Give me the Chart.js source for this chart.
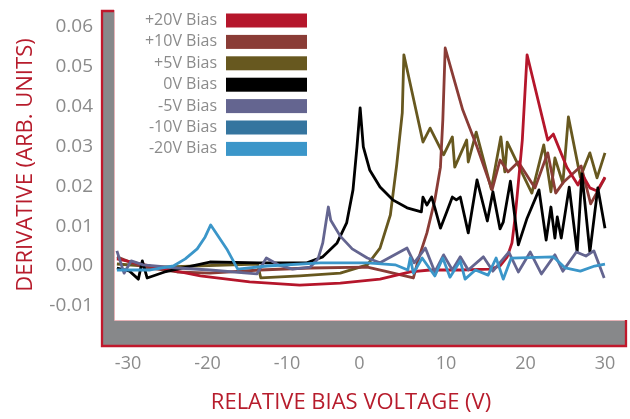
<!DOCTYPE html>
<html>
<head>
<meta charset="utf-8">
<script src="https://cdn.jsdelivr.net/npm/chart.js@4.4.0/dist/chart.umd.min.js"></script>
<style>
html, body { margin: 0; padding: 0; background: #fff; }
#wrap { width: 630px; height: 419px; position: relative; }
</style>
</head>
<body>
<div id="wrap"><canvas id="biasChart"></canvas></div>
<script>
const seriesNames = ['+20V Bias', '+10V Bias', '+5V Bias', '0V Bias', '-5V Bias', '-10V Bias', '-20V Bias'];
const seriesColors = ['#b5162b', '#8a3c36', '#67581f', '#000000', '#646590', '#35759f', '#3b96c9'];

const xTicks = [-30, -20, -10, 0, 10, 20, 30];
const yTicks = [-0.01, 0, 0.01, 0.02, 0.03, 0.04, 0.05, 0.06];

// +20V
const p20x = [-31.4, -27.2, -20.9, -14.7, -8.4, -3.3, 1.7, 5.5, 8.0, 11.8, 15.5, 16.8, 17.7, 18.3, 18.7, 19.1, 19.6, 20.2, 22.8, 23.5, 25.2, 26.6, 27.2, 28.1, 29.0, 30.0];
const p20y = [0.0018, 0.0000, -0.0025, -0.0040, -0.0048, -0.0043, -0.0033, -0.0015, -0.0010, -0.0010, -0.0008, 0.0000, 0.0023, 0.0058, 0.0123, 0.0208, 0.0316, 0.0530, 0.0316, 0.0331, 0.0248, 0.0203, 0.0228, 0.0196, 0.0188, 0.0223];
// +10V
const p10x = [-31.4, -28.1, -23.8, -19.7, -13.4, -7.1, 0.1, 2.3, 5.9, 6.5, 7.6, 8.6, 9.3, 9.6, 9.9, 12.1, 13.9, 15.8, 16.8, 17.8, 19.1, 21.2, 22.8, 23.8, 24.8, 27.0, 28.2, 30.0];
const p10y = [0.0023, -0.0003, -0.0015, -0.0018, -0.0010, -0.0005, -0.0003, -0.0013, -0.0030, 0.0015, 0.0083, 0.0166, 0.0248, 0.0366, 0.0547, 0.0392, 0.0299, 0.0191, 0.0266, 0.0236, 0.0261, 0.0196, 0.0284, 0.0183, 0.0211, 0.0251, 0.0156, 0.0221];
// +5V
const p5x = [-31.4, -26.0, -13.7, -13.3, -8.4, -3.3, 0.1, 1.7, 3.0, 3.8, 4.5, 4.7, 7.1, 8.0, 9.7, 10.8, 11.1, 12.6, 12.8, 13.8, 15.7, 16.9, 17.4, 17.7, 20.8, 22.3, 23.2, 23.7, 24.7, 25.4, 26.9, 28.1, 29.0, 30.0];
const p5y = [0.0005, -0.0003, 0.0005, -0.0030, -0.0025, -0.0018, 0.0003, 0.0045, 0.0128, 0.0254, 0.0384, 0.0530, 0.0311, 0.0346, 0.0279, 0.0324, 0.0248, 0.0316, 0.0261, 0.0336, 0.0193, 0.0324, 0.0236, 0.0311, 0.0183, 0.0304, 0.0186, 0.0271, 0.0208, 0.0374, 0.0223, 0.0284, 0.0221, 0.0284];
// 0V
const z0x = [-31.4, -29.8, -28.7, -28.2, -27.6, -25.4, -19.7, -13.4, -7.5, -5.5, -3.7, -2.5, -1.7, -1.2, -0.8, -0.4, 0.4, 1.7, 3.3, 5.1, 6.9, 7.1, 7.6, 8.2, 8.6, 9.3, 10.1, 10.8, 11.3, 11.8, 12.8, 13.9, 15.2, 15.9, 16.8, 17.2, 18.1, 19.1, 20.2, 21.7, 22.6, 23.2, 23.7, 24.0, 24.5, 25.5, 26.5, 27.1, 28.1, 29.1, 30.0];
const z0y = [-0.0005, -0.0013, -0.0033, 0.0013, -0.0030, -0.0015, 0.0010, 0.0008, 0.0008, 0.0023, 0.0058, 0.0108, 0.0191, 0.0299, 0.0397, 0.0299, 0.0241, 0.0198, 0.0166, 0.0146, 0.0136, 0.0173, 0.0153, 0.0173, 0.0146, 0.0095, 0.0136, 0.0173, 0.0166, 0.0173, 0.0083, 0.0216, 0.0113, 0.0186, 0.0093, 0.0110, 0.0213, 0.0053, 0.0120, 0.0191, 0.0065, 0.0148, 0.0070, 0.0123, 0.0070, 0.0198, 0.0035, 0.0231, 0.0035, 0.0196, 0.0095];
// -5V
const m5x = [-31.4, -30.5, -29.6, -28.1, -23.8, -19.7, -13.8, -12.6, -11.1, -9.3, -7.1, -6.1, -5.5, -5.1, -4.8, -4.5, -3.3, -1.8, 0.1, 1.7, 5.1, 6.0, 7.4, 8.6, 9.7, 10.8, 11.8, 12.8, 14.7, 15.9, 17.9, 19.1, 20.6, 22.0, 23.7, 24.7, 26.4, 27.6, 28.6, 29.9];
const m5y = [0.0038, -0.0018, 0.0013, 0.0003, -0.0005, -0.0010, -0.0020, 0.0020, 0.0003, -0.0008, -0.0003, 0.0018, 0.0058, 0.0110, 0.0148, 0.0115, 0.0075, 0.0043, 0.0020, 0.0008, 0.0045, 0.0008, 0.0045, -0.0015, 0.0028, -0.0010, 0.0023, -0.0010, 0.0023, -0.0013, 0.0035, -0.0015, 0.0035, -0.0020, 0.0028, -0.0013, 0.0035, 0.0025, 0.0038, -0.0030];
// -10V (not visible in the picture)
const m10x = [];
const m10y = [];
// -20V
const m20x = [-31.4, -27.2, -24.3, -22.8, -21.3, -20.3, -19.6, -17.5, -16.2, -12.5, -5.8, 0.1, 3.6, 5.2, 5.5, 5.9, 7.0, 8.6, 9.6, 10.5, 11.8, 12.4, 13.7, 15.3, 16.3, 17.2, 18.2, 23.5, 25.0, 26.9, 28.7, 30.0];
const m20y = [-0.0010, -0.0010, 0.0000, 0.0018, 0.0043, 0.0073, 0.0103, 0.0040, -0.0008, 0.0000, 0.0008, 0.0008, 0.0003, -0.0010, 0.0020, -0.0018, 0.0020, -0.0025, 0.0020, -0.0028, 0.0013, -0.0033, -0.0010, -0.0023, 0.0020, -0.0033, 0.0020, 0.0023, -0.0005, -0.0013, 0.0000, 0.0005];

const seriesX = [p20x, p10x, p5x, z0x, m5x, m10x, m20x];
const seriesY = [p20y, p10y, p5y, z0y, m5y, m10y, m20y];
const drawOrder = [3, 4, 5, 2, 1, 6, 0];

const FONT = "'Open Sans', 'Noto Sans', sans-serif";
const GRAY = '#8b8b8b';
const RED = '#b71c2c';

const datasets = seriesNames.map((name, i) => ({
    label: name,
    data: seriesX[i].map((x, j) => ({ x: x, y: seriesY[i][j] })),
    borderColor: seriesColors[i],
    backgroundColor: seriesColors[i],
    borderWidth: 2.8,
    pointRadius: 0,
    tension: 0,
    borderJoinStyle: 'round',
    order: drawOrder[i]
}));

// no extra layout padding from tick labels
function noPad(s) {
    s.paddingTop = 0;
    s.paddingBottom = 0;
    s.paddingLeft = 0;
    s.paddingRight = 0;
}

// grey side wall and floor of the 3D frame
const wallPlugin = {
    id: 'wall',
    beforeDatasetsDraw(chart) {
        const { ctx, chartArea: ca } = chart;
        const left = ca.left - 14, top = ca.top, bottom = ca.bottom + 27;
        ctx.save();
        ctx.fillStyle = '#87888a';
        ctx.fillRect(left, top, ca.left - left, bottom - top);
        ctx.fillRect(left, ca.bottom, ca.right - left, bottom - ca.bottom);
        ctx.strokeStyle = '#e6b3b7';
        ctx.lineWidth = 1;
        ctx.beginPath();
        ctx.moveTo(ca.left - 0.5, top);
        ctx.lineTo(ca.left - 0.5, ca.bottom + 0.5);
        ctx.lineTo(ca.right - 2, ca.bottom + 0.5);
        ctx.stroke();
        ctx.strokeStyle = '#c0182c';
        ctx.lineWidth = 2.3;
        ctx.beginPath();
        ctx.moveTo(ca.left - 1, top + 1);
        ctx.lineTo(left + 1, top + 1);
        ctx.lineTo(left + 1, bottom - 1);
        ctx.lineTo(ca.right - 1, bottom - 1);
        ctx.lineTo(ca.right - 1, ca.bottom);
        ctx.stroke();
        ctx.restore();
    }
};

// legend: label on the left, coloured bar on the right
const legendPlugin = {
    id: 'sideLegend',
    afterDraw(chart) {
        const ctx = chart.ctx;
        ctx.save();
        ctx.font = '16px ' + FONT;
        ctx.textAlign = 'right';
        ctx.textBaseline = 'middle';
        chart.data.datasets.forEach((ds, i) => {
            const y = 20.5 + i * 21.4;
            ctx.fillStyle = GRAY;
            ctx.fillText(ds.label, 217, y);
            ctx.fillStyle = ds.borderColor;
            ctx.fillRect(226, y - 7, 81, 14);
        });
        ctx.restore();
    }
};

new Chart(document.getElementById('biasChart'), {
    type: 'line',
    data: { datasets: datasets },
    options: {
        responsive: true,
        maintainAspectRatio: false,
        animation: false,
        devicePixelRatio: 1,
        layout: { padding: { top: 10, right: 3, bottom: 0, left: 0 } },
        plugins: {
            legend: { display: false },
            tooltip: { enabled: false }
        },
        scales: {
            x: {
                type: 'linear',
                min: -31.64,
                max: 32.77,
                grid: { display: false, drawTicks: false },
                border: { display: false },
                afterBuildTicks: (s) => { s.ticks = xTicks.map(v => ({ value: v })); },
                afterFit: (s) => { s.height = 99; noPad(s); },
                ticks: {
                    padding: 33,
                    color: GRAY,
                    font: { family: FONT, size: 18 },
                    // the zero label sits a little left of its tick in the original
                    callback: (v) => v === 0 ? '0\u00a0\u00a0\u00a0' : String(v)
                },
                title: {
                    display: true,
                    text: 'RELATIVE BIAS VOLTAGE (V)\u00a0\u00a0\u00a0\u00a0\u00a0\u00a0\u00a0',
                    color: RED,
                    font: { family: FONT, size: 22 },
                    padding: { top: 0, bottom: 3 }
                }
            },
            y: {
                min: -0.01355,
                max: 0.06424,
                grid: { display: false, drawTicks: false },
                border: { display: false },
                afterBuildTicks: (s) => { s.ticks = yTicks.map(v => ({ value: v })); },
                afterFit: (s) => { s.width = 115; noPad(s); },
                ticks: {
                    padding: 22,
                    color: GRAY,
                    font: { family: FONT, size: 19 },
                    callback: (v) => v.toFixed(2)
                },
                title: {
                    display: true,
                    text: 'DERIVATIVE (ARB. UNITS)',
                    color: RED,
                    font: { family: FONT, size: 22 },
                    padding: { top: 13, bottom: 0 }
                }
            }
        }
    },
    plugins: [wallPlugin, legendPlugin]
});
</script>
</body>
</html>
